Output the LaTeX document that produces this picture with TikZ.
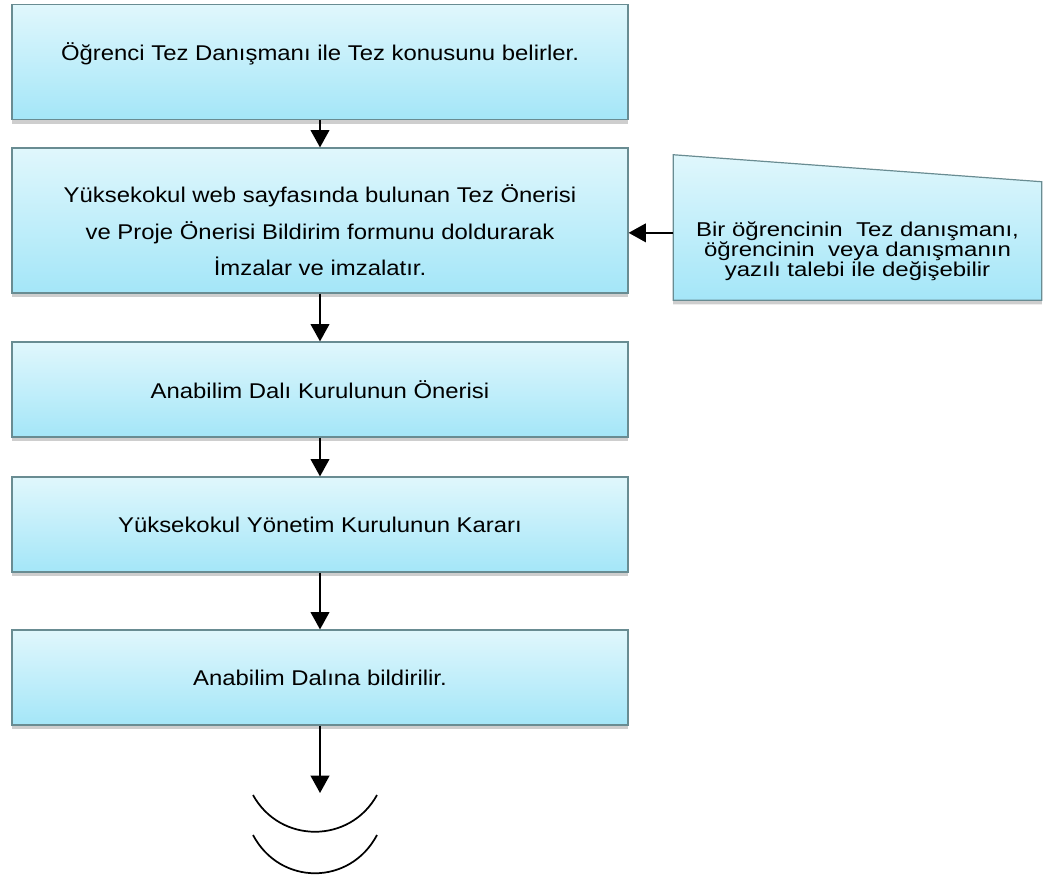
\documentclass[tikz,border=0pt]{standalone}
\usepackage{fontspec}
\setmainfont{Liberation Sans}[FakeStretch=1.12]
\newfontfamily\yanfont{Liberation Sans}[FakeStretch=1.2]
\usetikzlibrary{arrows.meta,shadows,calc}

\definecolor{kutuust}{RGB}{224,247,252}
\definecolor{kutualt}{RGB}{164,230,248}
\definecolor{kenar}{RGB}{105,140,146}

\begin{document}
\begin{tikzpicture}[x=0.75pt,y=-0.75pt,
		kutu/.style={draw=kenar,line width=0.9pt,top color=kutuust,bottom color=kutualt,
			minimum width=462pt,align=center,font=\fontsize{16}{27.5}\selectfont,
			drop shadow={shadow xshift=0pt,shadow yshift=-3pt,opacity=0.35,fill=black!55}},
		yazi/.style={align=center,font=\fontsize{16}{27.5}\selectfont},
		ok/.style={line width=1.4pt,-{Triangle[length=13pt,width=14pt]}}]
	
	\useasboundingbox (0,0) rectangle (1053,879);
	
	%kutular
	\node[kutu,minimum height=86.25pt,
		label={[yazi,yshift=6pt]center:Öğrenci Tez Danışmanı ile Tez konusunu belirler.}] (k1) at (320,62) {};
	\node[kutu,minimum height=108.75pt,
		label={[yazi,yshift=-7.5pt]center:Yüksekokul web sayfasında bulunan Tez Önerisi\\ve Proje Önerisi Bildirim formunu doldurarak\\İmzalar ve imzalatır.}] (k2) at (320,220.5) {};
	\node[kutu,minimum height=71.25pt] (k3) at (320,389.5) {Anabilim Dalı Kurulunun Önerisi};
	\node[kutu,minimum height=71.25pt] (k4) at (320,524.5) {Yüksekokul Yönetim Kurulunun Kararı};
	\node[kutu,minimum height=71.25pt] (k5) at (320,677.5) {Anabilim Dalına bildirilir.};
	
	%yan kutu
	\node[minimum width=276pt,minimum height=108.75pt,inner sep=0pt] (yan) at (857.5,227.5) {};
	\draw[draw=kenar,line width=0.9pt,top color=kutuust,bottom color=kutualt,
		drop shadow={shadow xshift=0pt,shadow yshift=-3pt,opacity=0.35,fill=black!55}]
		(yan.north west) -- ($(yan.north east)+(0,27)$) -- (yan.south east) -- (yan.south west) -- cycle;
	\node[font=\yanfont\fontsize{15}{15}\selectfont,align=center] (yanyazi) at (857.5,251)
		{Bir öğrencinin \ Tez danışmanı,\\öğrencinin \ veya danışmanın\\yazılı talebi ile değişebilir};
	
	%oklar
	\draw[ok] (k1) -- (k2);
	\draw[ok] (k2) -- (k3);
	\draw[ok] (k3) -- (k4);
	\draw[ok] (k4) -- (k5);
	\coordinate (son) at (320,793);
	\draw[ok] (k5) -- (son);
	\draw[ok] ([yshift=-4pt]yan.west) -- ([yshift=-4pt]yan.west -| k2.east);
	
	%yaylar
	\draw[line width=1.3pt] (253,795) .. controls (280,844) and (350,844) .. (377,795);
	\draw[line width=1.3pt] (253,835) .. controls (280,886) and (350,886) .. (377,835);
	
\end{tikzpicture}
\end{document}
